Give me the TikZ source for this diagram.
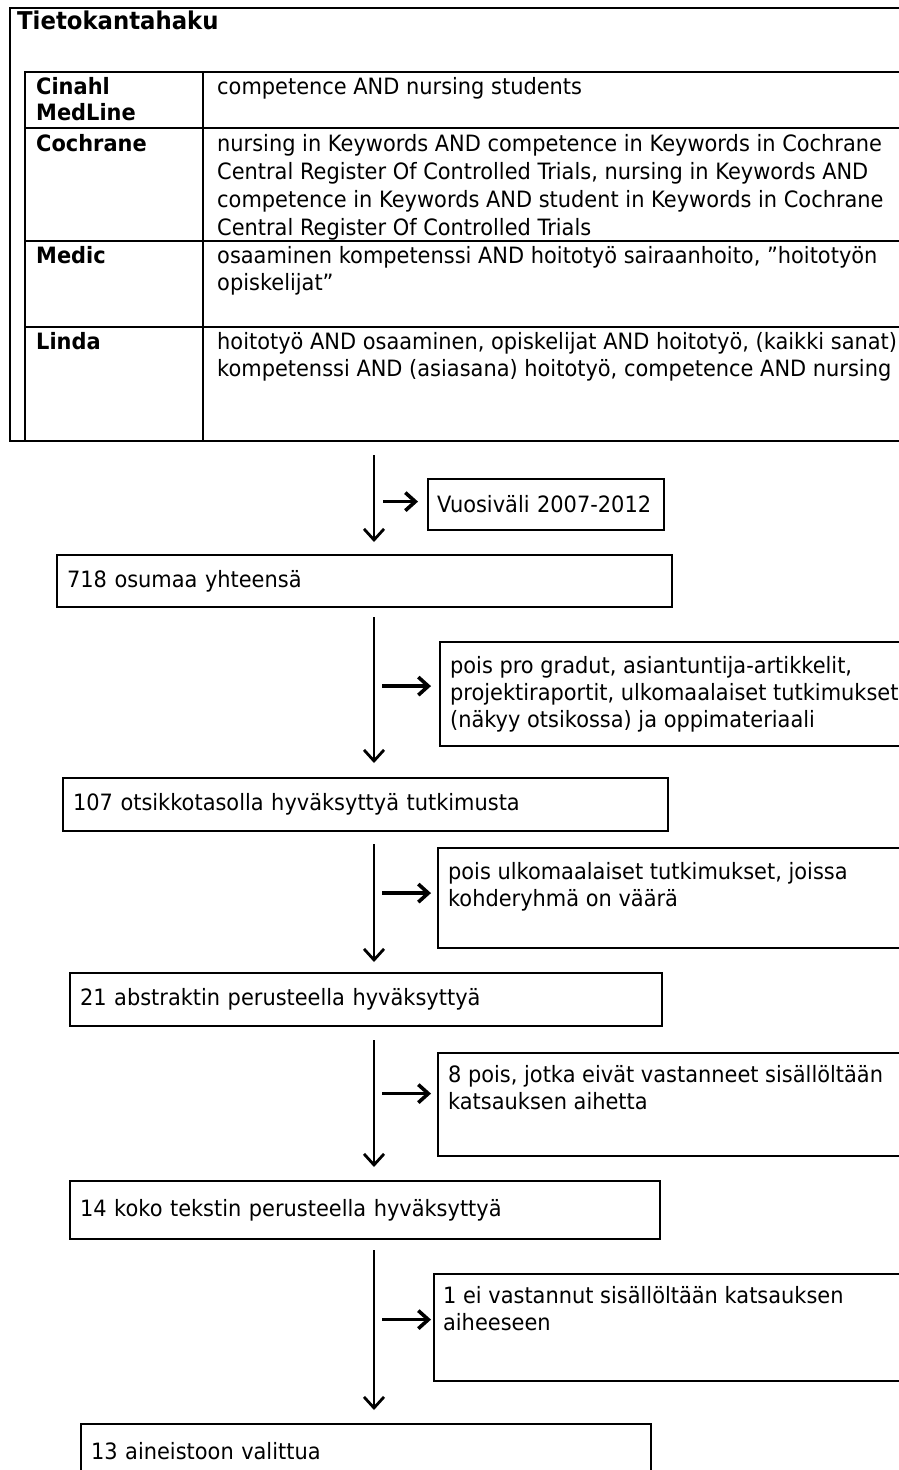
\documentclass[tikz,border=0pt]{standalone}
\usepackage{fontspec}
\setmainfont[FakeStretch=0.93]{DejaVu Sans}
\usetikzlibrary{arrows.meta}

\tikzset{
	box/.style={draw, line width=2.2pt, anchor=north west, inner xsep=10pt, inner ysep=0pt},
	mainbox/.style={box, align=left},
	sidebox/.style={box},
	cell/.style={inner sep=0pt, anchor=north west, align=left},
	flow/.style={-{Straight Barb[length=11pt,width=20pt]}, line width=2.8pt},
	sideflow/.style={-{Straight Barb[length=10pt,width=18pt]}, line width=3.6pt},
}

\begin{document}
\begin{tikzpicture}[x=1pt, y=-1pt, font=\fontsize{22.5}{27}\selectfont]
	\useasboundingbox (0,0) rectangle (899,1470);
	\clip (0,0) rectangle (899,1470);

	% hakutaulukko
	\node[box, minimum width=930pt, minimum height=433pt] (taulu) at (9,7) {};
	\node[cell, font=\fontsize{24.5}{27}\selectfont\bfseries] (otsikko) at (17,11) {Tietokantahaku};
	\draw[line width=2.2pt] (25,440) -- (25,72) -- (940,72);
	\draw[line width=2.2pt] (203,72) -- (203,440);
	\draw[line width=2.2pt] (25,128) -- (940,128);
	\draw[line width=2.2pt] (25,241) -- (940,241);
	\draw[line width=2.2pt] (25,327) -- (940,327);

	\node[cell, font=\fontsize{22.5}{26}\selectfont\bfseries] (cinahl) at (36,77) {Cinahl\\MedLine};
	\node[cell] (hakuCinahl) at (217,77) {competence AND nursing students};
	\node[cell, font=\fontsize{22.5}{27}\selectfont\bfseries] (cochrane) at (36,134) {Cochrane};
	\node[cell, font=\fontsize{22.5}{28}\selectfont] (hakuCochrane) at (217,134) {nursing in Keywords AND competence in Keywords in Cochrane\\Central Register Of Controlled Trials, nursing in Keywords AND\\competence in Keywords AND student in Keywords in Cochrane\\Central Register Of Controlled Trials};
	\node[cell, font=\fontsize{22.5}{27}\selectfont\bfseries] (medic) at (36,246) {Medic};
	\node[cell] (hakuMedic) at (217,246) {osaaminen kompetenssi AND hoitotyö sairaanhoito, ”hoitotyön\\opiskelijat”};
	\node[cell, font=\fontsize{22.5}{27}\selectfont\bfseries] (linda) at (36,332) {Linda};
	\node[cell] (hakuLinda) at (217,332) {hoitotyö AND osaaminen, opiskelijat AND hoitotyö, (kaikki sanat)\\kompetenssi AND (asiasana) hoitotyö, competence AND nursing};

	% vaiheet
	\node[mainbox, text width=595pt, minimum height=52pt] (osumat) at (56,554) {718 osumaa yhteensä};
	\node[mainbox, text width=585pt, minimum height=53pt] (otsikot) at (62,777) {107 otsikkotasolla hyväksyttyä tutkimusta};
	\node[mainbox, text width=572pt, minimum height=53pt] (abstraktit) at (69,972) {21 abstraktin perusteella hyväksyttyä};
	\node[mainbox, text width=570pt, minimum height=58pt] (kokoteksti) at (69,1180) {14 koko tekstin perusteella hyväksyttyä};
	\node[mainbox, text width=550pt, minimum height=54pt] (valitut) at (80,1423) {13 aineistoon valittua};

	% rajaukset
	\node[mainbox, inner xsep=9pt, text width=218pt, minimum height=51pt] (vuosi) at (427,478) {Vuosiväli 2007-2012};
	\node[sidebox] (pois1) at (439,641) {\parbox[c][104pt][t]{470pt}{\vspace{14pt}pois pro gradut, asiantuntija-artikkelit,\\projektiraportit, ulkomaalaiset tutkimukset\\(näkyy otsikossa) ja oppimateriaali}};
	\node[sidebox] (pois2) at (437,847) {\parbox[c][100pt][t]{470pt}{\vspace{14pt}pois ulkomaalaiset tutkimukset, joissa\\kohderyhmä on väärä}};
	\node[sidebox] (pois3) at (437,1052) {\parbox[c][103pt][t]{470pt}{\vspace{12pt}8 pois, jotka eivät vastanneet sisällöltään\\katsauksen aihetta}};
	\node[sidebox, inner xsep=9pt] (pois4) at (433,1273) {\parbox[c][107pt][t]{470pt}{\vspace{12pt}1 ei vastannut sisällöltään katsauksen\\aiheeseen}};

	% nuolet
	\coordinate (runko) at (374,0);
	\draw[flow, shorten <=13pt, shorten >=12pt] (taulu.south -| runko) -- (osumat.north -| runko);
	\draw[flow, shorten <=9pt, shorten >=14pt] (osumat.south -| runko) -- (otsikot.north -| runko);
	\draw[flow, shorten <=12pt, shorten >=10pt] (otsikot.south -| runko) -- (abstraktit.north -| runko);
	\draw[flow, shorten <=13pt, shorten >=13pt] (abstraktit.south -| runko) -- (kokoteksti.north -| runko);
	\draw[flow, shorten <=10pt, shorten >=13pt] (kokoteksti.south -| runko) -- (valitut.north -| runko);

	\draw[sideflow, shorten <=9pt, shorten >=9pt] ([yshift=3pt]vuosi.west -| runko) -- ([yshift=3pt]vuosi.west);
	\draw[sideflow, shorten <=8pt, shorten >=8pt] ([yshift=8pt]pois1.west -| runko) -- ([yshift=8pt]pois1.west);
	\draw[sideflow, shorten <=8pt, shorten >=6pt] ([yshift=5pt]pois2.west -| runko) -- ([yshift=5pt]pois2.west);
	\draw[sideflow, shorten <=8pt, shorten >=6pt] ([yshift=11pt]pois3.west -| runko) -- ([yshift=11pt]pois3.west);
	\draw[sideflow, shorten <=8pt, shorten >=2pt] ([yshift=8pt]pois4.west -| runko) -- ([yshift=8pt]pois4.west);
\end{tikzpicture}
\end{document}
